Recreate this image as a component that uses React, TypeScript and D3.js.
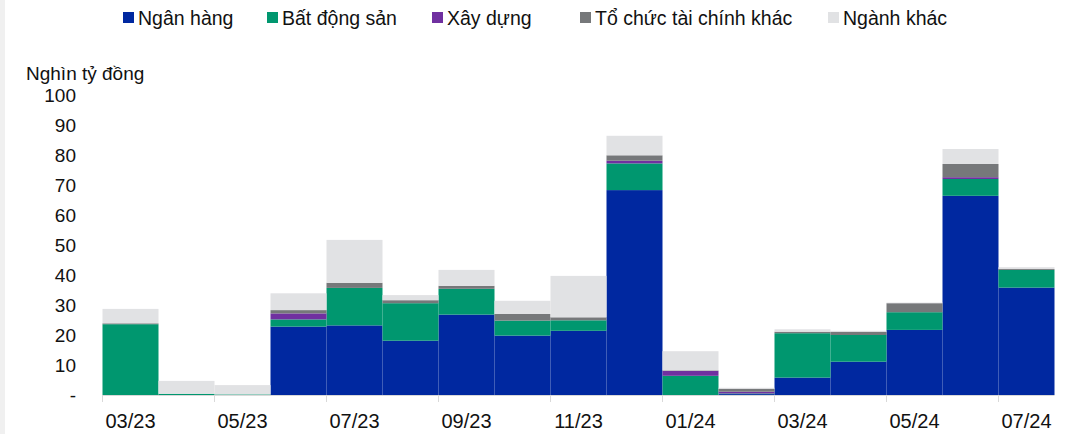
import React from "react";
import * as d3 from "d3";

const months = ["03/23","04/23","05/23","06/23","07/23","08/23","09/23","10/23","11/23","12/23","01/24","02/24","03/24","04/24","05/24","06/24","07/24"];
const nganHang =   [0,   0,   0,   22.8, 23.2, 18.1, 26.8, 19.8, 21.4, 68.3, 0,   0.3, 5.8,  11.1, 21.7, 66.4, 35.8];
const batDongSan = [23.6,0.4, 0.2, 2.4,  12.5, 12.5, 8.6,  5.0,  3.5,  8.9,  6.4, 0.2, 14.8, 8.9,  5.9,  5.6,  5.9];
const xayDung =    [0,   0,   0,   2.0,  0,    0,    0,    0,    0,    0.9,  1.6, 0.6, 0,    0,    0,    0.6,  0];
const toChucTC =   [0.3, 0,   0,   1.1,  1.7,  1.0,  1.0,  2.2,  1.0,  1.8,  0.2, 1.0, 0.5,  1.1,  3.0,  4.4,  0.3];
const nganhKhac =  [4.8, 4.3, 3.1, 5.6,  14.3, 1.7,  5.3,  4.4,  13.8, 6.5,  6.4, 0.3, 0.8,  0.3,  0.2,  5.0,  0.6];
const seriesNames = ["Ngân hàng","Bất động sản","Xây dựng","Tổ chức tài chính khác","Ngành khác"];
const colors = ["#0028A0","#00976F","#7030A0","#76787A","#E1E2E4"];
const yTicks = [0,10,20,30,40,50,60,70,80,90,100];
const xLabelMonths = ["03/23","05/23","07/23","09/23","11/23","01/24","03/24","05/24","07/24"];

export default function App() {
  const W = 1075, H = 434;
  const left = 102.5, right = 1054.5, top = 95, bottom = 395;
  const keys = ["nh","bds","xd","tc","nk"];
  const rows = months.map((m, i) => ({ m, nh: nganHang[i], bds: batDongSan[i], xd: xayDung[i], tc: toChucTC[i], nk: nganhKhac[i] }));
  const stack = d3.stack<any>().keys(keys)(rows);
  const x = d3.scaleBand().domain(months).range([left, right]).padding(0);
  const y = d3.scaleLinear().domain([0, 100]).range([bottom, top]);
  const font = "'Liberation Sans', Arial, sans-serif";
  const legendX = [123, 267, 432, 580, 828];
  return (
    <svg width={W} height={H} style={{ position: "absolute", left: 0, top: 0, background: "#fff" }} fontFamily={font}>
      <rect x={0} y={0} width={5} height={H} fill="#F0F0F0" />
      {seriesNames.map((name, i) => (
        <g key={name}>
          <rect x={legendX[i]} y={12} width={11} height={11} fill={colors[i]} />
          <text x={legendX[i] + 15} y={24.5} fontSize={19.5} fill="#111">{name}</text>
        </g>
      ))}
      <text x={26} y={80} fontSize={19} fill="#111">Nghìn tỷ đồng</text>
      {yTicks.map(t => (
        <text key={t} x={76} y={y(t) + 7} fontSize={19} textAnchor="end" fill="#111">{t === 0 ? "-" : t}</text>
      ))}
      {stack.map((s, si) => (
        <g key={si} fill={colors[si]}>
          {s.map((d, i) => {
            const h = y(d[0]) - y(d[1]);
            if (h <= 0) return null;
            return <rect key={i} x={x(months[i])!} y={y(d[1])} width={x.bandwidth()} height={h} />;
          })}
        </g>
      ))}
      <line x1={left} x2={right} y1={bottom + 0.5} y2={bottom + 0.5} stroke="#D9D9D9" strokeWidth={1} />
      {xLabelMonths.map(m => {
        const xx = x(m)!;
        return (
          <g key={m}>
            <line x1={xx} x2={xx} y1={bottom} y2={bottom + 7} stroke="#D9D9D9" strokeWidth={1} />
            <text x={xx + x.bandwidth() / 2} y={428} fontSize={20} textAnchor="middle" fill="#111">{m}</text>
          </g>
        );
      })}
    </svg>
  );
}
